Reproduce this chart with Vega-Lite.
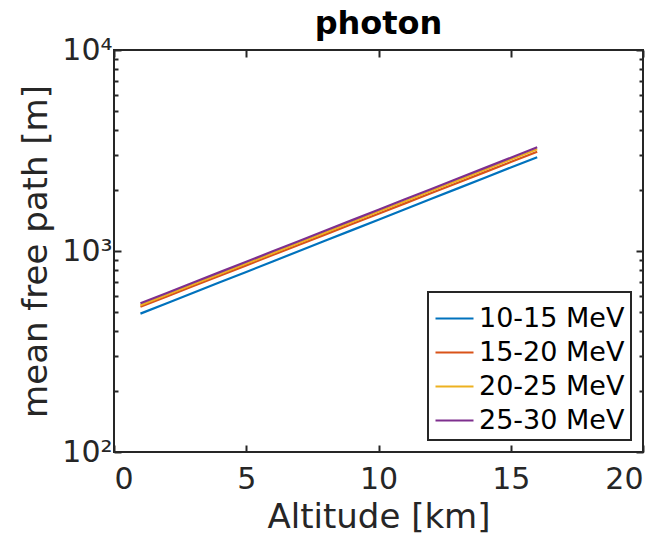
{
  "$schema": "https://vega.github.io/schema/vega-lite/v6.json",
  "width": 529,
  "height": 402,
  "autosize": {"type": "none"},
  "padding": {"left": 114, "top": 50, "right": 21, "bottom": 84},
  "background": "white",
  "config": {
    "view": {"stroke": "#262626", "strokeWidth": 2},
    "font": "DejaVu Sans",
    "axis": {
      "domain": false,
      "grid": false,
      "labelFont": "DejaVu Sans",
      "labelFontSize": 30,
      "labelColor": "#262626",
      "titleFont": "DejaVu Sans",
      "titleFontSize": 34,
      "titleFontWeight": "normal",
      "titleColor": "#262626",
      "tickColor": "#262626",
      "tickWidth": 2
    },
    "legend": {
      "orient": "bottom-right",
      "offset": 12,
      "symbolType": "stroke",
      "symbolSize": 1444,
      "symbolStrokeWidth": 2.2,
      "labelFont": "DejaVu Sans",
      "labelFontSize": 27,
      "labelColor": "black",
      "labelLimit": 400,
      "labelOffset": 4,
      "strokeColor": "#262626",
      "strokeWidth": 2,
      "fillColor": "white",
      "padding": 6,
      "rowPadding": -4.3
    }
  },
  "title": {
    "text": "photon",
    "font": "DejaVu Sans",
    "fontSize": 32,
    "fontWeight": "bold",
    "color": "black",
    "anchor": "middle",
    "offset": -6
  },
  "data": {
    "values": [
      {"alt": 1, "mfp": 488, "band": "10-15 MeV"},
      {"alt": 2, "mfp": 550, "band": "10-15 MeV"},
      {"alt": 3, "mfp": 620, "band": "10-15 MeV"},
      {"alt": 4, "mfp": 699, "band": "10-15 MeV"},
      {"alt": 5, "mfp": 787, "band": "10-15 MeV"},
      {"alt": 6, "mfp": 887, "band": "10-15 MeV"},
      {"alt": 7, "mfp": 1000, "band": "10-15 MeV"},
      {"alt": 8, "mfp": 1127, "band": "10-15 MeV"},
      {"alt": 9, "mfp": 1270, "band": "10-15 MeV"},
      {"alt": 10, "mfp": 1432, "band": "10-15 MeV"},
      {"alt": 11, "mfp": 1613, "band": "10-15 MeV"},
      {"alt": 12, "mfp": 1818, "band": "10-15 MeV"},
      {"alt": 13, "mfp": 2049, "band": "10-15 MeV"},
      {"alt": 14, "mfp": 2309, "band": "10-15 MeV"},
      {"alt": 15, "mfp": 2603, "band": "10-15 MeV"},
      {"alt": 16, "mfp": 2930, "band": "10-15 MeV"},
      {"alt": 1, "mfp": 528, "band": "15-20 MeV"},
      {"alt": 2, "mfp": 594, "band": "15-20 MeV"},
      {"alt": 3, "mfp": 669, "band": "15-20 MeV"},
      {"alt": 4, "mfp": 753, "band": "15-20 MeV"},
      {"alt": 5, "mfp": 848, "band": "15-20 MeV"},
      {"alt": 6, "mfp": 955, "band": "15-20 MeV"},
      {"alt": 7, "mfp": 1075, "band": "15-20 MeV"},
      {"alt": 8, "mfp": 1210, "band": "15-20 MeV"},
      {"alt": 9, "mfp": 1362, "band": "15-20 MeV"},
      {"alt": 10, "mfp": 1533, "band": "15-20 MeV"},
      {"alt": 11, "mfp": 1726, "band": "15-20 MeV"},
      {"alt": 12, "mfp": 1942, "band": "15-20 MeV"},
      {"alt": 13, "mfp": 2187, "band": "15-20 MeV"},
      {"alt": 14, "mfp": 2461, "band": "15-20 MeV"},
      {"alt": 15, "mfp": 2771, "band": "15-20 MeV"},
      {"alt": 16, "mfp": 3119, "band": "15-20 MeV"},
      {"alt": 1, "mfp": 538, "band": "20-25 MeV"},
      {"alt": 2, "mfp": 606, "band": "20-25 MeV"},
      {"alt": 3, "mfp": 683, "band": "20-25 MeV"},
      {"alt": 4, "mfp": 769, "band": "20-25 MeV"},
      {"alt": 5, "mfp": 866, "band": "20-25 MeV"},
      {"alt": 6, "mfp": 976, "band": "20-25 MeV"},
      {"alt": 7, "mfp": 1099, "band": "20-25 MeV"},
      {"alt": 8, "mfp": 1238, "band": "20-25 MeV"},
      {"alt": 9, "mfp": 1395, "band": "20-25 MeV"},
      {"alt": 10, "mfp": 1571, "band": "20-25 MeV"},
      {"alt": 11, "mfp": 1770, "band": "20-25 MeV"},
      {"alt": 12, "mfp": 1994, "band": "20-25 MeV"},
      {"alt": 13, "mfp": 2246, "band": "20-25 MeV"},
      {"alt": 14, "mfp": 2530, "band": "20-25 MeV"},
      {"alt": 15, "mfp": 2850, "band": "20-25 MeV"},
      {"alt": 16, "mfp": 3208, "band": "20-25 MeV"},
      {"alt": 1, "mfp": 549, "band": "25-30 MeV"},
      {"alt": 2, "mfp": 618, "band": "25-30 MeV"},
      {"alt": 3, "mfp": 697, "band": "25-30 MeV"},
      {"alt": 4, "mfp": 785, "band": "25-30 MeV"},
      {"alt": 5, "mfp": 884, "band": "25-30 MeV"},
      {"alt": 6, "mfp": 996, "band": "25-30 MeV"},
      {"alt": 7, "mfp": 1122, "band": "25-30 MeV"},
      {"alt": 8, "mfp": 1264, "band": "25-30 MeV"},
      {"alt": 9, "mfp": 1424, "band": "25-30 MeV"},
      {"alt": 10, "mfp": 1604, "band": "25-30 MeV"},
      {"alt": 11, "mfp": 1807, "band": "25-30 MeV"},
      {"alt": 12, "mfp": 2036, "band": "25-30 MeV"},
      {"alt": 13, "mfp": 2294, "band": "25-30 MeV"},
      {"alt": 14, "mfp": 2584, "band": "25-30 MeV"},
      {"alt": 15, "mfp": 2911, "band": "25-30 MeV"},
      {"alt": 16, "mfp": 3280, "band": "25-30 MeV"}
    ]
  },
  "layer": [
    {
      "mark": {"type": "line", "strokeWidth": 2.2},
      "encoding": {
        "x": {
          "field": "alt",
          "type": "quantitative",
          "scale": {"domain": [0, 20], "nice": false},
          "axis": {
            "orient": "bottom",
            "values": [0, 5, 10, 15, 20],
            "tickSize": -7,
            "labelPadding": 19,
            "titlePadding": 6,
            "title": "Altitude [km]"
          }
        },
        "y": {
          "field": "mfp",
          "type": "quantitative",
          "scale": {"type": "log", "domain": [100, 10000], "nice": false},
          "axis": {
            "orient": "left",
            "values": [100, 200, 300, 400, 500, 600, 700, 800, 900, 1000, 2000, 3000, 4000, 5000, 6000, 7000, 8000, 9000, 10000],
            "labelExpr": "datum.value == 100 ? '10²' : datum.value == 1000 ? '10³' : datum.value == 10000 ? '10⁴' : ''",
            "tickSize": {"condition": {"test": "datum.value == 100 || datum.value == 1000 || datum.value == 10000", "value": -7}, "value": -4},
            "labelPadding": 9,
            "titlePadding": 8,
            "title": "mean free path [m]"
          }
        },
        "color": {
          "field": "band",
          "type": "nominal",
          "scale": {
            "domain": ["10-15 MeV", "15-20 MeV", "20-25 MeV", "25-30 MeV"],
            "range": ["#0072BD", "#D95319", "#EDB120", "#7E2F8E"]
          },
          "legend": {"title": null}
        }
      }
    },
    {
      "mark": {"type": "line", "strokeOpacity": 0},
      "encoding": {
        "x": {
          "field": "alt",
          "type": "quantitative",
          "scale": {"domain": [0, 20], "nice": false},
          "axis": {
            "orient": "top",
            "values": [0, 5, 10, 15, 20],
            "tickSize": -7,
            "labels": false,
            "title": null
          }
        },
        "y": {
          "field": "mfp",
          "type": "quantitative",
          "scale": {"type": "log", "domain": [100, 10000], "nice": false},
          "axis": {
            "orient": "right",
            "values": [100, 200, 300, 400, 500, 600, 700, 800, 900, 1000, 2000, 3000, 4000, 5000, 6000, 7000, 8000, 9000, 10000],
            "tickSize": {"condition": {"test": "datum.value == 100 || datum.value == 1000 || datum.value == 10000", "value": -7}, "value": -4},
            "labels": false,
            "title": null
          }
        },
        "detail": {"field": "band", "type": "nominal"}
      }
    }
  ],
  "resolve": {"axis": {"x": "independent", "y": "independent"}}
}
